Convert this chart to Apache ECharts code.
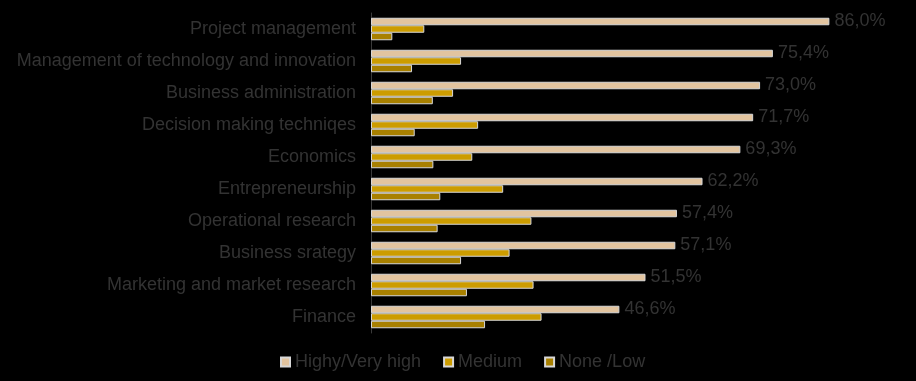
<!DOCTYPE html>
<html><head><meta charset="utf-8">
<script src="https://cdn.jsdelivr.net/npm/echarts@6/dist/echarts.min.js"></script>
<style>html,body{margin:0;padding:0;background:#000;}#c{width:916px;height:381px;}</style>
</head><body><div id="c"></div>
<script>
const categories = ["Project management","Management of technology and innovation","Business administration","Decision making techniqes","Economics","Entrepreneurship","Operational research","Business srategy","Marketing and market research","Finance"];
const seriesNames = ["Highy/Very high","Medium","None /Low"];
const high = [86.0,75.4,73.0,71.7,69.3,62.2,57.4,57.1,51.5,46.6];
const medium = [10.0,16.9,15.4,20.1,19.0,24.8,30.1,26.0,30.5,32.0];
const low = [4.0,7.7,11.6,8.2,11.7,13.0,12.5,16.9,18.0,21.4];
const colors = ["#E2C49F","#CC9C00","#A88000"];
const txt = "#333333";
const font = "Liberation Sans, Arial, sans-serif";
const chart = echarts.init(document.getElementById('c'));
const mk = (name, data, i) => ({
  name, type: 'bar', data, barWidth: 7.5, barGap: '0%',
  itemStyle: {color: colors[i], borderColor: '#d8d8d8', borderWidth: 1},
  label: i === 0 ? {show: true, position: 'right', distance: 5, color: txt, fontSize: 18, fontFamily: font,
    formatter: p => p.value.toFixed(1).replace('.', ',') + '%'} : {show: false}
});
chart.setOption({
  backgroundColor: '#000',
  animation: false,
  color: colors,
  grid: {left: 371, right: 12, top: 13, bottom: 48},
  legend: {bottom: 5, left: 275, itemWidth: 9, itemHeight: 9, itemGap: 22, icon: 'rect',
    textStyle: {color: txt, fontSize: 18, fontFamily: font}, data: seriesNames},
  xAxis: {type: 'value', min: 0, max: 100, show: false},
  yAxis: {type: 'category', data: categories, inverse: true,
    axisLine: {lineStyle: {color: '#3a3a3a'}},
    axisTick: {length: 5, lineStyle: {color: '#3a3a3a'}},
    axisLabel: {color: txt, fontSize: 18, fontFamily: font, margin: 15}},
  series: [mk(seriesNames[0], high, 0), mk(seriesNames[1], medium, 1), mk(seriesNames[2], low, 2)]
});
</script></body></html>
